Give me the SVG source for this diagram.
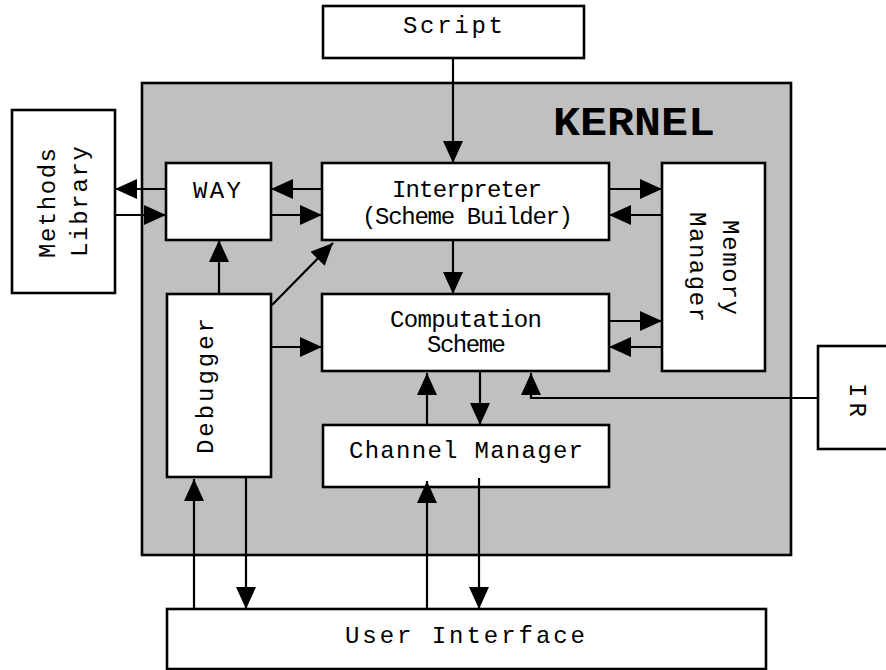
<svg xmlns="http://www.w3.org/2000/svg" width="886" height="670" viewBox="0 0 886 670">
<defs>
<style>
.box{fill:#fff;stroke:#000;stroke-width:2.6}
.kernel{fill:#c0c0c0;stroke:#000;stroke-width:2.6}
.t{font-family:"Liberation Mono","Courier New",monospace;font-size:24px;fill:#000;text-anchor:middle}
.k{font-family:"Liberation Mono","Courier New",monospace;font-size:40px;font-weight:bold;fill:#000}
.c{fill:none;stroke:#000;stroke-width:2.2}
</style>
<marker id="ah" markerUnits="userSpaceOnUse" viewBox="0 0 22 20" refX="22" refY="10" markerWidth="22" markerHeight="20" orient="auto">
<path d="M0,0 L22,10 L0,20 z" fill="#000"/>
</marker>
</defs>
<rect width="886" height="670" fill="#fff"/>
<g id="kernel">
<rect class="kernel" x="142" y="83" width="649" height="472"/>
<text class="k" x="553" y="135" textLength="162" lengthAdjust="spacingAndGlyphs">KERNEL</text>
</g>
<g id="script">
<rect class="box" x="323" y="6" width="261" height="52"/>
<text class="t" x="453" y="33" textLength="100">Script</text>
</g>
<g id="methods-library">
<rect class="box" x="12" y="110" width="103" height="183"/>
<text class="t" transform="translate(55,203) rotate(-90)" textLength="110">Methods</text>
<text class="t" transform="translate(87,201.5) rotate(-90)" textLength="111">Library</text>
</g>
<g id="way">
<rect class="box" x="166" y="163" width="105" height="77"/>
<text class="t" x="217" y="198" textLength="48">WAY</text>
</g>
<g id="interpreter">
<rect class="box" x="322" y="163" width="287" height="77"/>
<text class="t" x="467" y="197" textLength="150">Interpreter</text>
<text class="t" x="467.5" y="224" textLength="211">(Scheme Builder)</text>
</g>
<g id="memory-manager">
<rect class="box" x="662" y="163" width="103" height="208"/>
<text class="t" transform="translate(723,267.5) rotate(90)" textLength="95">Memory</text>
<text class="t" transform="translate(690,267) rotate(90)" textLength="110">Manager</text>
</g>
<g id="computation-scheme">
<rect class="box" x="322" y="294" width="287" height="77"/>
<text class="t" x="466" y="327" textLength="152">Computation</text>
<text class="t" x="466.5" y="352" textLength="79">Scheme</text>
</g>
<g id="debugger">
<rect class="box" x="167" y="294" width="104" height="183"/>
<text class="t" transform="translate(213,386) rotate(-90)" textLength="136">Debugger</text>
</g>
<g id="channel-manager">
<rect class="box" x="323" y="425" width="286" height="62"/>
<text class="t" x="466" y="458" textLength="234">Channel Manager</text>
</g>
<g id="ir">
<rect class="box" x="818" y="346" width="90" height="103"/>
<text class="t" transform="translate(850,400) rotate(90)" textLength="34">IR</text>
</g>
<g id="user-interface">
<rect class="box" x="167" y="609" width="599" height="60"/>
<text class="t" x="465" y="643" textLength="240">User Interface</text>
</g>
<g id="connectors">
<line class="c" x1="453" y1="58" x2="453" y2="163" marker-end="url(#ah)"/>
<line class="c" x1="166" y1="189" x2="115" y2="189" marker-end="url(#ah)"/>
<line class="c" x1="115" y1="215" x2="166" y2="215" marker-end="url(#ah)"/>
<line class="c" x1="322" y1="189" x2="271" y2="189" marker-end="url(#ah)"/>
<line class="c" x1="271" y1="215" x2="322" y2="215" marker-end="url(#ah)"/>
<line class="c" x1="609" y1="189" x2="662" y2="189" marker-end="url(#ah)"/>
<line class="c" x1="662" y1="215" x2="609" y2="215" marker-end="url(#ah)"/>
<line class="c" x1="453" y1="240" x2="453" y2="294" marker-end="url(#ah)"/>
<line class="c" x1="609" y1="321" x2="662" y2="321" marker-end="url(#ah)"/>
<line class="c" x1="662" y1="347" x2="609" y2="347" marker-end="url(#ah)"/>
<line class="c" x1="219" y1="294" x2="219" y2="240" marker-end="url(#ah)"/>
<line class="c" x1="272" y1="305" x2="333" y2="243" marker-end="url(#ah)"/>
<line class="c" x1="271" y1="347" x2="322" y2="347" marker-end="url(#ah)"/>
<line class="c" x1="427" y1="425" x2="427" y2="373" marker-end="url(#ah)"/>
<line class="c" x1="480" y1="371" x2="480" y2="425" marker-end="url(#ah)"/>
<polyline class="c" points="818,398 531,398 531,373" marker-end="url(#ah)"/>
<line class="c" x1="194" y1="609" x2="194" y2="479" marker-end="url(#ah)"/>
<line class="c" x1="246" y1="477" x2="246" y2="609" marker-end="url(#ah)"/>
<line class="c" x1="427" y1="609" x2="427" y2="481" marker-end="url(#ah)"/>
<line class="c" x1="479" y1="478" x2="479" y2="609" marker-end="url(#ah)"/>
</g>
</svg>
